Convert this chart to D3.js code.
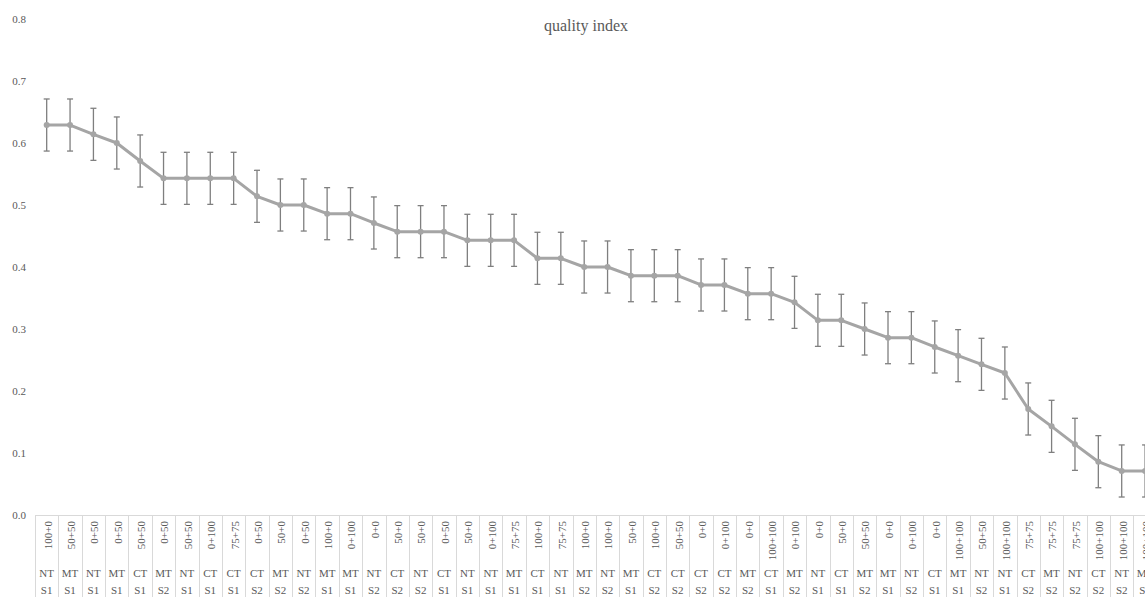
<!DOCTYPE html>
<html>
<head>
<meta charset="utf-8">
<script src="https://cdn.jsdelivr.net/npm/d3@7"></script>
<style>
  html, body { margin: 0; padding: 0; background: #fff; }
  svg { display: block; }
  text { font-family: "Liberation Serif", "DejaVu Serif", serif; fill: #595959; }
</style>
</head>
<body>
<svg id="chart" width="1145" height="597"></svg>
<script>
// Fertiliser dose (N+P), tillage and season for each treatment, ranked by quality index
const doses = ["100+0","50+50","0+50","0+50","50+50","0+50","50+50","0+100","75+75","0+50","50+0","0+50",
  "100+0","0+100","0+0","50+0","50+0","0+50","50+0","0+100","75+75","100+0","75+75","100+0",
  "100+0","50+0","100+0","50+50","0+0","0+100","0+0","100+100","0+100","0+0","50+0","50+50",
  "0+0","0+100","0+0","100+100","50+50","100+100","75+75","75+75","75+75","100+100","100+100","100+100"];
const tillage = ["NT","MT","NT","MT","CT","MT","NT","CT","CT","CT","MT","NT",
  "MT","MT","NT","CT","NT","CT","NT","NT","MT","CT","NT","MT",
  "NT","MT","CT","CT","CT","CT","MT","CT","MT","NT","CT","MT",
  "MT","NT","CT","MT","NT","NT","CT","MT","NT","CT","NT","MT"];
const seasons = ["S1","S1","S1","S1","S1","S2","S1","S1","S1","S2","S2","S2",
  "S1","S1","S2","S2","S2","S1","S1","S1","S1","S1","S1","S2",
  "S2","S1","S2","S2","S2","S2","S2","S1","S2","S1","S1","S2",
  "S1","S2","S1","S1","S2","S1","S2","S2","S2","S2","S2","S2"];
const quality = [0.629,0.629,0.614,0.600,0.571,0.543,0.543,0.543,0.543,0.514,0.500,0.500,
  0.486,0.486,0.471,0.457,0.457,0.457,0.443,0.443,0.443,0.414,0.414,0.400,
  0.400,0.386,0.386,0.386,0.371,0.371,0.357,0.357,0.343,0.314,0.314,0.300,
  0.286,0.286,0.271,0.257,0.243,0.229,0.171,0.143,0.114,0.086,0.071,0.071];
const errors = [0.042,0.042,0.042,0.042,0.042,0.042,0.042,0.042,0.042,0.042,0.042,0.042,
  0.042,0.042,0.042,0.042,0.042,0.042,0.042,0.042,0.042,0.042,0.042,0.042,
  0.042,0.042,0.042,0.042,0.042,0.042,0.042,0.042,0.042,0.042,0.042,0.042,
  0.042,0.042,0.042,0.042,0.042,0.042,0.042,0.042,0.042,0.042,0.042,0.042];
const yTicks = [0.0,0.1,0.2,0.3,0.4,0.5,0.6,0.7,0.8];
const title = "quality index";

const rows = doses.map((d, i) => ({
  id: i, dose: d, till: tillage[i], season: seasons[i], q: quality[i], e: errors[i]
}));

const svg = d3.select("#chart");
const W = 1145, H = 597;
const left = 35, step = 23.37;
const x = d3.scaleBand().domain(rows.map(r => r.id)).range([left, left + step * rows.length]).padding(0);
const y = d3.scaleLinear().domain([0, 0.8]).range([515, 19]);
const cx = i => x(i) + x.bandwidth() / 2;

// Title
svg.append("text").attr("x", 586).attr("y", 31).attr("text-anchor", "middle")
  .style("font-size", "16px").text(title);

// Value axis (labels only)
const yAxis = svg.append("g").attr("transform", "translate(26,0)")
  .call(d3.axisLeft(y).tickValues(yTicks).tickFormat(d3.format(".1f")).tickSize(0).tickPadding(0));
yAxis.attr("font-family", null).attr("font-size", null);
yAxis.select(".domain").remove();
yAxis.selectAll("text").style("font-size", "11px").attr("fill", "#595959");

// Category table: baseline and separators
const grid = svg.append("g").attr("stroke", "#d9d9d9").attr("stroke-width", 1);
grid.append("line").attr("x1", left).attr("x2", W).attr("y1", y(0) + 0.5).attr("y2", y(0) + 0.5);
grid.selectAll("line.sep").data(d3.range(rows.length + 1)).join("line").attr("class", "sep")
  .attr("x1", i => Math.round(left + i * step) + 0.5).attr("x2", i => Math.round(left + i * step) + 0.5)
  .attr("y1", y(0)).attr("y2", H);

// Category labels
const lab = svg.append("g").style("font-size", "11px");
lab.selectAll("text.dose").data(rows).join("text").attr("class", "dose")
  .attr("transform", r => `translate(${cx(r.id) + 1},${y(0) + 6}) rotate(-90)`)
  .attr("text-anchor", "end").attr("dy", "0.35em").text(r => r.dose);
lab.selectAll("text.till").data(rows).join("text").attr("class", "till")
  .attr("x", r => cx(r.id)).attr("y", 577).attr("text-anchor", "middle").text(r => r.till);
lab.selectAll("text.season").data(rows).join("text").attr("class", "season")
  .attr("x", r => cx(r.id)).attr("y", 594).attr("text-anchor", "middle").text(r => r.season);

// Error bars
const eb = svg.append("g").attr("stroke", "#7f7f7f").attr("stroke-width", 1.3);
eb.selectAll("line.v").data(rows).join("line").attr("class", "v")
  .attr("x1", r => cx(r.id)).attr("x2", r => cx(r.id))
  .attr("y1", r => y(r.q + r.e)).attr("y2", r => y(r.q - r.e));
eb.selectAll("line.t").data(rows).join("line").attr("class", "t")
  .attr("x1", r => cx(r.id) - 3).attr("x2", r => cx(r.id) + 3)
  .attr("y1", r => y(r.q + r.e)).attr("y2", r => y(r.q + r.e));
eb.selectAll("line.b").data(rows).join("line").attr("class", "b")
  .attr("x1", r => cx(r.id) - 3).attr("x2", r => cx(r.id) + 3)
  .attr("y1", r => y(r.q - r.e)).attr("y2", r => y(r.q - r.e));

// Series line and markers
const line = d3.line().x(r => cx(r.id)).y(r => y(r.q));
svg.append("path").datum(rows).attr("d", line)
  .attr("fill", "none").attr("stroke", "#a5a5a5").attr("stroke-width", 3).attr("stroke-linejoin", "round");
svg.append("g").selectAll("circle").data(rows).join("circle")
  .attr("cx", r => cx(r.id)).attr("cy", r => y(r.q)).attr("r", 3).attr("fill", "#a5a5a5");
</script>
</body>
</html>
